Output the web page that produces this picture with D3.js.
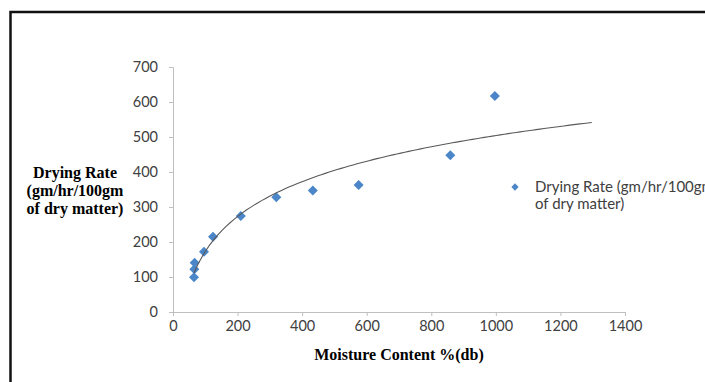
<!DOCTYPE html>
<html>
<head>
<meta charset="utf-8">
<script src="https://cdn.jsdelivr.net/npm/d3@7"></script>
<style>
  body { margin: 0; background: #fff; }
  svg { display: block; }
  .axis path, .axis line { stroke: #bfbfbf; }
  .axis text { fill: #404040; font-family: Lato, "Open Sans", sans-serif; font-size: 14.5px; }
</style>
</head>
<body>
<svg id="chart"></svg>
<script>
// moisture content %(db) and drying rate readings
const moisture = [65, 66, 67, 96, 124, 210, 320, 433, 575, 859, 997];
const dryingRate = [99, 122, 141, 172, 215, 274, 328, 347, 363, 448, 617];
const xTicks = [0, 200, 400, 600, 800, 1000, 1200, 1400];
const yTicks = [0, 100, 200, 300, 400, 500, 600, 700];
const trendForward = 300; // log trendline projected forward
const seriesName = ['Drying Rate (gm/hr/100gm', 'of dry matter)'];
const yTitle = ['Drying Rate', '(gm/hr/100gm', 'of dry matter)'];
const xTitle = 'Moisture Content %(db)';

var width = 705, height = 382;
var margin = {top: 67, right: 80, bottom: 70, left: 173};

var svg = d3.select('#chart')
  .attr('width', width)
  .attr('height', height);

var x = d3.scaleLinear()
  .domain([0, 1400])
  .range([margin.left, width - margin.right]);

var y = d3.scaleLinear()
  .domain([0, 700])
  .range([height - margin.bottom, margin.top]);

// frame
svg.append('rect')
  .attr('x', 10.5).attr('y', 12)
  .attr('width', width + 20).attr('height', height + 20)
  .attr('fill', 'none')
  .attr('stroke', '#111')
  .attr('stroke-width', 2.5);

svg.append('g')
  .attr('class', 'axis x')
  .attr('transform', `translate(0, ${ y(0) })`)
  .call(d3.axisBottom(x).tickValues(xTicks).tickFormat(d3.format('d'))
    .tickSize(4).tickSizeOuter(4).tickPadding(5));

svg.append('g')
  .attr('class', 'axis y')
  .attr('transform', `translate(${ x(0) }, 0)`)
  .call(d3.axisLeft(y).tickValues(yTicks).tickFormat(d3.format('d'))
    .tickSize(4).tickSizeOuter(4).tickPadding(11));

// markers
var diamond = d3.symbol().type(d3.symbolDiamond2).size(64);
svg.append('g')
  .selectAll('path')
  .data(moisture.map((m, i) => [m, dryingRate[i]]))
  .enter().append('path')
  .attr('d', diamond)
  .attr('transform', d => `translate(${ x(d[0]) }, ${ y(d[1]) })`)
  .attr('fill', '#4a86c8');

// logarithmic trendline, least squares on ln(x)
var lx = moisture.map(Math.log);
var mx = d3.mean(lx), my = d3.mean(dryingRate);
var sxy = d3.sum(lx, (v, i) => (v - mx) * (dryingRate[i] - my));
var sxx = d3.sum(lx, v => (v - mx) * (v - mx));
var slope = sxy / sxx, intercept = my - slope * mx;
var x0 = d3.min(moisture), x1 = d3.max(moisture) + trendForward;
var trend = d3.range(0, 101).map(i => {
  var xv = x0 + (x1 - x0) * i / 100;
  return [xv, intercept + slope * Math.log(xv)];
});

svg.append('path')
  .datum(trend)
  .attr('fill', 'none')
  .attr('stroke', '#595959')
  .attr('stroke-width', 1.1)
  .attr('d', d3.line().x(d => x(d[0])).y(d => y(d[1])));

// axis titles
svg.append('text')
  .attr('x', 399).attr('y', 360)
  .attr('text-anchor', 'middle')
  .style('font-family', '"Liberation Serif", "Times New Roman", serif')
  .style('font-weight', 'bold')
  .style('font-size', '16px')
  .text(xTitle);

svg.append('text')
  .attr('text-anchor', 'middle')
  .style('font-family', '"Liberation Serif", "Times New Roman", serif')
  .style('font-weight', 'bold')
  .style('font-size', '16px')
  .selectAll('tspan')
  .data(yTitle)
  .enter().append('tspan')
  .attr('x', 75)
  .attr('y', (d, i) => 178 + i * 18)
  .text(d => d);

// legend (text runs off the right edge, as in the source image)
var legend = svg.append('g').attr('transform', 'translate(515, 187)');
legend.append('path')
  .attr('d', d3.symbol().type(d3.symbolDiamond2).size(34))
  .attr('fill', '#4a86c8');
legend.append('text')
  .style('font-family', 'Lato, "Open Sans", sans-serif')
  .style('font-size', '15px')
  .style('fill', '#404040')
  .selectAll('tspan')
  .data(seriesName)
  .enter().append('tspan')
  .attr('x', 20)
  .attr('y', (d, i) => 5 + i * 17)
  .text(d => d);
</script>
</body>
</html>
